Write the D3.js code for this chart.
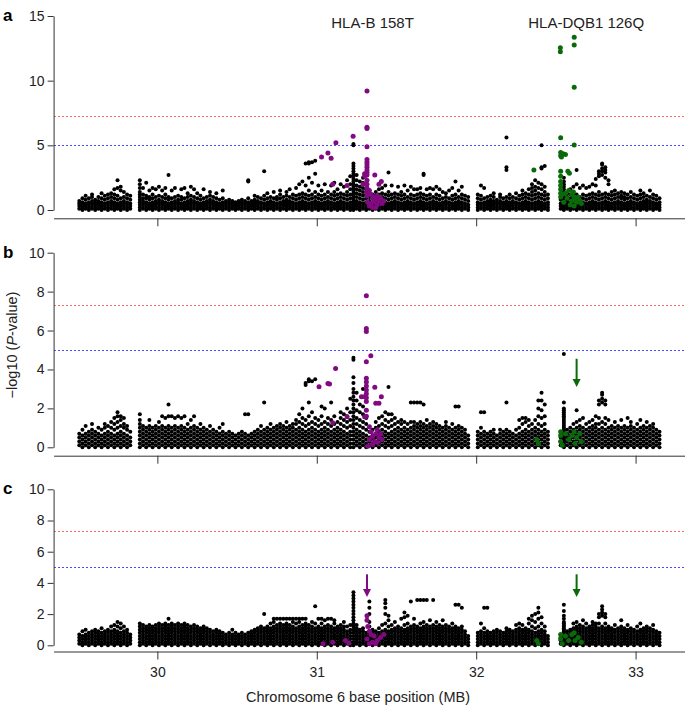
<!DOCTYPE html>
<html>
<head>
<meta charset="utf-8">
<script src="https://cdn.jsdelivr.net/npm/d3@7"></script>
<style>
  body { margin: 0; background: #fff; }
  text { font-family: "Liberation Sans", Arial, Helvetica, sans-serif; }
</style>
</head>
<body>
<svg id="chart" width="685" height="705"></svg>
<script>
// SNP bins: each bin is 0.02 MB wide starting at 29.50, values are -log10(P) in tenths
const binStart = 29.50
const binWidth = 0.02

const blackA = [
  [1,3,5,7],[0,2,4,6,9],[1,3,5,8,11],[0,2,4,6,9],[1,3,5,7,10,12],[0,2,4,6,8],[1,3,5,7,10],[0,2,4,6,9,13],[1,3,5,8,11],[0,2,4,6,9,12],
  [1,3,5,7,10,13],[0,2,4,6,9,12,16],[1,3,5,8,11,17,23],[0,2,4,6,9,15,18],[1,3,5,7,10,14],[0,2,4,6,9,12],[1,3,5,8,11],[],[],[0,2,4,6,8,10,12,14,17,20,23],
  [1,3,5,7,9,12,17],[0,2,4,6,9,11,21],[1,3,5,8,10,15],[0,2,4,6,9,12,17],[1,3,5,7,10,16],[0,2,4,6,8,11,18],[1,3,5,7,10,15],[0,2,4,6,9,12,17],[1,3,5,8,10,27],[0,2,4,6,9,15],
  [1,3,5,7,10,17],[0,2,4,6,8,11],[1,3,5,8,10,16],[0,2,4,6,9,17],[1,3,5,7,10,13],[0,2,4,6,8,11,18],[1,3,5,7,10,16],[0,2,4,6,9,13],[1,3,5,8,11],[0,2,4,6,9,16],
  [1,3,5,7,10],[0,2,4,6,8,11,14],[1,3,5,7,10],[0,2,4,6,9,13],[1,3,5,8],[0,2,4,6,9,15],[1,3,5,7],[0,2,4,6,8],[1,3,5,7],[0,2,4,6],
  [1,3,5,7],[0,2,4,6,8],[1,3,5,7],[0,2,4,6,9,22,23],[1,3,5,7],[0,2,4,6,8,11],[1,3,5,7,10],[0,2,4,6,9],[1,3,5,8,11,30],[0,2,4,6,9,13],
  [1,3,5,7,10],[0,2,4,6,9,14],[1,3,5,8,10],[0,2,4,6,9,12,15],[1,3,5,7,10],[0,2,4,6,8,11,14],[1,3,5,7,10,16],[0,2,4,6,9,12],[1,3,5,8,11,17],[0,2,4,6,9,12,20],
  [1,3,5,7,10,13,22],[0,2,4,6,9,12,19,36],[1,3,5,8,11,15,25,36,37],[0,2,4,6,9,12,21,37],[1,3,5,7,10,14,28,38],[0,2,4,6,9,12,19],[1,3,5,8,11,15],[0,2,4,6,9,12,20],[1,3,5,7,10,14],[0,2,4,6,9,12,19],
  [1,3,5,8,11,14,21],[0,2,4,6,9,12,16],[1,3,5,7,10,13,20],[0,2,4,6,9,12,18],[1,3,5,8,11,14,23],[0,2,4,6,9,12,16,20,26],[0,2,4,6,8,10,12,14,16,18,20,22,24,26,28,30,32,34,36,50,51],[1,3,5,7,10,13,16,19,23,27],[0,2,4,6,9,12,15,18,22],[1,3,5,8,11,14,17,21,25],
  [0,2,4,6,9,12,16,20],[1,3,5,7,10],[0,2,4,6,9,12],[1,3,5,8,11,14],[0,2,4,6,9,12,16],[1,3,5,7,10,13,17],[0,2,4,6,9,12,19],[1,3,5,8,11,14,29],[0,2,4,6,9,12,19],[1,3,5,7,10,13],
  [0,2,4,6,9,12,18],[1,3,5,8,11,14],[0,2,4,6,9,12,19],[1,3,5,7,10,15],[0,2,4,6,9,12,18],[1,3,5,8,11,16],[0,2,4,6,9,12,16],[1,3,5,7,10,13,17],[0,2,4,6,9,12,27,28],[1,3,5,8,11,16],
  [0,2,4,6,9,12,17],[1,3,5,7,10,16],[0,2,4,6,9,12,18],[1,3,5,8,11,16],[0,2,4,6,9,14],[1,3,5,7,10,13],[0,2,4,6,9,15],[1,3,5,8,11,17],[0,2,4,6,9,12,22],[1,3,5,7,10,15],
  [0,2,4,6,9,12,18],[1,3,5,8,11],[0,2,4,7,10],[],[],[0,2,4,6,9,12],[1,3,5,8,11,19],[0,2,4,6,9,17],[1,3,5,7,10],[0,2,4,6,8,11],
  [1,3,5,7,10,13],[0,2,4,6,8],[1,3,5,7,10,12],[0,2,4,6,9],[1,3,5,7,10,31,33,56],[0,2,4,6,9,12],[1,3,5,7,10],[0,2,4,6,9,13],[1,3,5,8,11],[0,2,4,6,9,12,15],
  [1,3,5,7,10,13],[0,2,4,6,9,12,16],[1,3,5,8,11,14,17,20],[0,2,4,6,9,12,15,18,23],[1,3,5,7,10,13,17,21],[0,2,4,6,9,12,16,20,32,33,50],[1,3,5,8,11,14,18,34],[0,2,4,6,9,12],[],[],
  [],[1,3,5,8],[0,1,2,3,4,5,6,7,8,9,10,12,14,16,18,20,22,25],[1,3,5,7,10,13],[0,2,4,6,9,12,16],[1,3,5,8,11,18],[0,2,4,6,9,12,20,31],[1,3,5,7,10,17],[0,2,4,6,9,12,19],[1,3,5,8,11,17],
  [0,2,4,6,9,12,18],[1,3,5,7,10,13,20],[0,2,4,6,9,12,19,24],[1,3,5,8,11,14,26,28,30],[0,2,4,6,9,12,27,30,32,35,36],[1,3,5,7,10,13,25,29,31,33],[0,2,4,6,9,12,20,23],[1,3,5,8,11,14],[0,2,4,6,9,12,15],[1,3,5,7,10,13],
  [0,2,4,6,9,11,14],[1,3,5,8,10,13],[0,2,4,6,9,12],[1,3,5,7,10,14],[0,2,4,6,9,12],[1,3,5,8,11],[0,2,4,6,9,12,15],[1,3,5,7,10,13],[0,2,4,6,8,11],[1,3,5,7,10,15],
  [0,2,4,6,9,12],[1,3,5,8,11],[0,2,4,6,9]
]

const blackB = [
  [1,3,5,7],[0,2,4,6,9],[1,3,5,7,11],[0,2,4,6,8],[1,3,5,7,9,12],[0,2,4,6,8],[1,3,5,7,10],[0,2,4,6,9],[1,3,5,7,10,12],[0,2,4,6,8,11],
  [1,3,5,7,10,13],[0,2,4,6,9,12,15],[1,3,5,7,10,13,16,18],[0,2,4,6,8,11,14,16],[1,3,5,7,10,12,15],[0,2,4,6,9,11],[1,3,5,8],[],[],[0,2,4,6,8,10,12,14,17],
  [1,3,5,7,9,11],[0,2,4,6,8,10],[1,3,5,7,9,11,14],[0,2,4,6,8,10],[1,3,5,7,9,11],[0,2,4,6,8,10,13],[1,3,5,7,9,11,16],[0,2,4,6,8,10,15],[1,3,5,7,9,11,16,22],[0,2,4,6,8,10,16],
  [1,3,5,7,9,11,15],[0,2,4,6,8,10,16],[1,3,5,7,9,11,15],[0,2,4,6,8,10,16],[1,3,5,7,9,12],[0,2,4,6,8,10,14],[1,3,5,7,9,11,16],[0,2,4,6,8,10],[1,3,5,7,9,12],[0,2,4,6,8,10],
  [1,3,5,7,9],[0,2,4,6,8,11],[1,3,5,7,9],[0,2,4,6,8],[1,3,5,7,10],[0,2,4,6,8,12],[1,3,5,7],[0,2,4,6,8],[1,3,5,7],[0,2,4,6],
  [1,3,5,7],[0,2,4,6,8],[1,3,5,7,17],[0,2,4,6,17],[1,3,5,7],[0,2,4,6,8],[1,3,5,7,9],[0,2,4,6,8,11],[1,3,5,7,9,23],[0,2,4,6,8,10],
  [1,3,5,7,9,12],[0,2,4,6,8,10],[1,3,5,7,9,11],[0,2,4,6,8,10,12],[1,3,5,7,9,11],[0,2,4,6,8,10,13],[1,3,5,7,9,11],[0,2,4,6,8,10,12],[1,3,5,7,9,12,14],[0,2,4,6,8,10,13,17],
  [1,3,5,7,9,12,15,20],[0,2,4,6,8,11,14,32,33],[1,3,5,7,9,12,16,23,34,35],[0,2,4,6,8,10,13,18,34],[1,3,5,7,9,12,15,35],[0,2,4,6,8,11,14],[1,3,5,7,9,12,16,21],[0,2,4,6,8,10,13,20],[1,3,5,7,9,12,15],[0,2,4,6,8,11,14,23],
  [1,3,5,7,9,12,16],[0,2,4,6,8,10,13],[1,3,5,7,9,12,15,18],[0,2,4,6,8,11,14,17],[1,3,5,7,10,13,16,20],[0,2,4,6,8,11,14,18,25],[0,2,4,6,8,10,12,14,16,18,20,22,24,26,28,30,33,36,45,46],[1,3,5,7,9,12,15,19,24,28],[0,2,4,6,8,11,14,18,22],[1,3,5,7,10,13,17,21,26,30],
  [0,2,4,6,9,12,15,19],[1,3,5,8],[0,2,4,6,9],[1,3,5,7,10,13],[0,2,4,6,8,11,15],[1,3,5,7,9,12,16],[0,2,4,6,8,11,14,18],[1,3,5,7,10,13,17,31],[0,2,4,6,8,11,14,17],[1,3,5,7,9,12,15],
  [0,2,4,6,8,10,13],[1,3,5,7,9,12,14],[0,2,4,6,8,10,13],[1,3,5,7,9,12],[0,2,4,6,8,10,13,23],[1,3,5,7,9,11,13,23],[0,2,4,6,8,10,12,23],[1,3,5,7,9,11,13,23],[0,2,4,6,8,10,12,22],[1,3,5,7,9,11,14],
  [0,2,4,6,8,10,12],[1,3,5,7,9,11,13],[0,2,4,6,8,10,12],[1,3,5,7,9,11],[0,2,4,6,8,10],[1,3,5,7,9,11,13],[0,2,4,6,8,10],[1,3,5,7,9,12],[0,2,4,6,8,10,21],[1,3,5,7,9,11,21],
  [0,2,4,6,8,10],[1,3,5,7,9],[0,2,4,6],[],[],[0,2,4,6,8],[1,3,5,7,10,18],[0,2,4,6,8,18],[1,3,5,7],[0,2,4,6,8],
  [1,3,5,7,9],[0,2,4,6],[1,3,5,7,9],[0,2,4,6,8],[1,3,5,7,9,23],[0,2,4,6,8],[1,3,5,7],[0,2,4,6,9],[1,3,5,7,10,14],[0,2,4,6,8,12,15],
  [1,3,5,7,9,13,15],[0,2,4,6,8,11,14],[1,3,5,7,9,12],[0,2,4,6,8,10,14],[1,3,5,7,9,12,16,20,24],[0,2,4,6,8,11,15,19,24,28],[1,3,5,7,9,12,16,22],[0,2,4,6,8],[],[],
  [],[1,3,5],[0,1,2,3,4,5,6,7,8,9,10,11,12,13,14,15,16,17,18,19,20,23,48],[1,3,5,7,9],[0,2,4,6,8,10],[1,3,5,7,9,12],[0,2,4,6,8,10,13,19],[1,3,5,7,9,11,14],[0,2,4,6,8,10,15],[1,3,5,7,9,12],
  [0,2,4,6,8,10,13],[1,3,5,7,9,11,14],[0,2,4,6,8,10,12,16],[1,3,5,7,9,12,15,22,24],[0,2,4,6,8,10,13,23,25,27,28],[1,3,5,7,9,12,15,22,24],[0,2,4,6,8,10,14],[1,3,5,7,9,11],[0,2,4,6,8,10,13],[1,3,5,7,9,11],
  [0,2,4,6,8,10,14],[1,3,5,7,9,11],[0,2,4,6,8,10,15],[1,3,5,7,9,11,13],[0,2,4,6,8,10],[1,3,5,7,9,12],[0,2,4,6,8,10,14],[1,3,5,7,9,11],[0,2,4,6,8,10,13],[1,3,5,7,9,11],
  [0,2,4,6,8,10,12],[1,3,5,7,9],[0,2,4,6,8]
]

const blackC = [
  [1,3,5,7],[0,2,4,6,9],[1,3,5,7,10],[0,2,4,6,8],[1,3,5,7,9],[0,2,4,6,8,10],[1,3,5,7,9],[0,2,4,6,8,11],[1,3,5,7,9],[0,2,4,6,8,10],
  [1,3,5,7,9,12],[0,2,4,6,8,10,13],[1,3,5,7,9,12,15],[0,2,4,6,8,11,14],[1,3,5,7,9,12],[0,2,4,6,8,10],[1,3,5,7],[],[],[0,2,4,6,8,10,12,14],
  [1,3,5,7,9,11,13],[0,2,4,6,8,10,12],[1,3,5,7,9,11,13],[0,2,4,6,8,10,12],[1,3,5,7,9,11,13],[0,2,4,6,8,10,12,14],[1,3,5,7,9,11,13],[0,2,4,6,8,10,12,14],[1,3,5,7,9,11,13,17],[0,2,4,6,8,10,12,14],
  [1,3,5,7,9,11,13],[0,2,4,6,8,10,12,14],[1,3,5,7,9,11,13],[0,2,4,6,8,10,12,14],[1,3,5,7,9,11,13],[0,2,4,6,8,10,12],[1,3,5,7,9,11,13],[0,2,4,6,8,10,12],[1,3,5,7,9,11],[0,2,4,6,8,10,12],
  [1,3,5,7,9,11],[0,2,4,6,8,10],[1,3,5,7,9],[0,2,4,6,8,10],[1,3,5,7,9],[0,2,4,6,8],[1,3,5,7],[0,2,4,6,8],[1,3,5,7,10],[0,2,4,6,8],
  [1,3,5,7],[0,2,4,6,8],[1,3,5,7],[0,2,4,6,8],[1,3,5,7,9],[0,2,4,6,8,10],[1,3,5,7,9,11],[0,2,4,6,8,10,12],[1,3,5,7,9,11,20],[0,2,4,6,8,10,12],
  [1,3,5,7,9,11,14],[0,2,4,6,8,10,12,15,17],[1,3,5,7,9,11,13,17],[0,2,4,6,8,10,12,14,17],[1,3,5,7,9,11,13,17],[0,2,4,6,8,10,12,14,17],[1,3,5,7,9,11,13,17],[0,2,4,6,8,10,12,15,17],[1,3,5,7,9,11,14,17],[0,2,4,6,8,10,12,15,17],
  [1,3,5,7,9,11,13,17],[0,2,4,6,8,10,12,14,17],[1,3,5,7,9,11,13],[0,2,4,6,8,10,12,15],[1,3,5,7,9,11,14,25],[0,2,4,6,8,10,12,17],[1,3,5,7,9,11,14,17],[0,2,4,6,8,10,12,16],[1,3,5,7,9,11,13,17],[0,2,4,6,8,10,12,17],
  [1,3,5,7,9,11,14,16],[0,2,4,6,8,10,12],[1,3,5,7,9,11,13],[0,2,4,6,8,10,12,15],[1,3,5,7,9,12],[0,2,4,6,8,10,13],[0,2,4,6,8,10,12,14,16,18,20,22,24,26,28,30,32,34],[1,3,5,7,9,11,13],[0,2,4,6,8,10],[1,3,5,7,9,11],
  [0,2,4,6,8],[1,3,5,7,9,12,15,20,24,28],[0,2,4,6,8,10],[1,3,5,7,9],[0,2,4,6,8,11],[1,3,5,7,9,13],[0,2,4,6,8,10,14,20,24,27,29],[1,3,5,7,9,12,16,19],[0,2,4,6,8,10,13],[1,3,5,7,9,11,15],
  [0,2,4,6,8,10,12],[1,3,5,7,9,11,17],[0,2,4,6,8,10,13,18,21],[1,3,5,7,9,11,14,19],[0,2,4,6,8,10,12,28],[1,3,5,7,9,11,13,17],[0,2,4,6,8,10,12,29],[1,3,5,7,9,11,14,29],[0,2,4,6,8,10,12,15,29],[1,3,5,7,9,11,13,29],
  [0,2,4,6,8,10,12,16],[1,3,5,7,9,11,13,29],[0,2,4,6,8,10,12,15],[1,3,5,7,9,11,13],[0,2,4,6,8,10,12,16],[1,3,5,7,9,11,13],[0,2,4,6,8,10,12],[1,3,5,7,9,11,14],[0,2,4,6,8,10,12,26],[1,3,5,7,9,11,26],
  [0,2,4,6,8,10,12,24],[1,3,5,7,9],[0,2,4,6],[],[],[0,2,4,6,8],[1,3,5,7,9,14],[0,2,4,6,8,11,24],[1,3,5,7,9,24],[0,2,4,6,8],
  [1,3,5,7,9],[0,2,4,6,8,10],[1,3,5,7,9],[0,2,4,6,8],[1,3,5,7,9,11],[0,2,4,6,8,10],[1,3,5,7,9],[0,2,4,6,8,10,13],[1,3,5,7,9,11,14],[0,2,4,6,8,10,13],
  [1,3,5,7,9,11],[0,2,4,6,8,10,14,17],[1,3,5,7,9,12,16,19],[0,2,4,6,8,11,15,20],[1,3,5,7,9,12,17,21,24],[0,2,4,6,8,10,14,18],[1,3,5,7,9,12],[0,2,4,6],[],[],
  [],[1,3,5],[0,1,2,3,4,5,6,7,8,9,10,11,12,13,14,15,17,19,22,26],[1,3,5,7,9],[0,2,4,6,8,10],[1,3,5,7,9,11,14],[0,2,4,6,8,10,12,15],[1,3,5,7,9,11,13],[0,2,4,6,8,10,12,16],[1,3,5,7,9,11,14],
  [0,2,4,6,8,10,12],[1,3,5,7,9,11,13,15],[0,2,4,6,8,10,12,14],[1,3,5,7,9,11,14,18,20],[0,2,4,6,8,10,12,19,21,23,25],[1,3,5,7,9,11,14,18,20],[0,2,4,6,8,10,12],[1,3,5,7,9,11],[0,2,4,6,8,10,13],[1,3,5,7,9,11],
  [0,2,4,6,8,10,12,16],[1,3,5,7,9,11],[0,2,4,6,8,10,13],[1,3,5,7,9,11],[0,2,4,6,8,10],[1,3,5,7,9,12],[0,2,4,6,8,10,14],[1,3,5,7,9,11],[0,2,4,6,8,10,12],[1,3,5,7,9,11],
  [0,2,4,6,8,10,13],[1,3,5,7,9],[0,2,4,6,8]
]

// HLA-B 158T tagged variants (purple) and HLA-DQB1 126Q tagged variants (green): [MB, -log10 P]
const purpleA = [[31.315,9.2],[31.315,6.4],[31.315,6.3],[31.228,5.7],[31.12,5.2],[31.07,4.4],[31.09,4.0],[31.03,4.1],[31.315,4.9],
  [31.315,3.9],[31.315,3.7],[31.315,3.5],[31.315,3.3],[31.315,3.1],[31.315,2.9],[31.315,2.7],[31.30,2.8],[31.30,2.6],[31.364,2.7],
  [31.405,2.2],[31.39,2.0],[31.10,2.0],[31.19,1.9],[31.29,2.0],[31.315,2.3],[31.315,2.0],[31.315,1.7],[31.315,1.4],[31.315,1.1],
  [31.33,1.5],[31.34,1.2],[31.35,0.9],[31.36,0.6],[31.37,0.8],[31.38,0.4],[31.39,0.7],[31.40,0.9],[31.41,0.5],[31.42,0.7],
  [31.33,0.3],[31.35,0.2],[31.34,0.5],[31.36,1.0],[31.38,1.1],[31.32,0.6],[31.37,0.2]]
const greenA = [[32.528,12.55],[32.528,12.24],[32.615,13.35],[32.615,12.76],[32.615,9.49],[32.53,5.59],[32.615,5.03],[32.53,4.45],
  [32.53,4.2],[32.545,4.35],[32.56,4.3],[32.535,4.1],[32.362,3.1],[32.53,3.0],[32.575,3.0],[32.585,2.85],[32.53,2.6],[32.53,2.2],
  [32.53,1.9],[32.53,1.6],[32.53,1.3],[32.53,1.0],[32.54,1.2],[32.56,1.3],[32.58,1.5],[32.6,1.2],[32.61,1.4],[32.615,1.0],
  [32.62,0.8],[32.63,0.6],[32.64,1.0],[32.65,0.7],[32.66,0.5],[32.6,0.7],[32.59,0.4],[32.55,0.6],[32.57,0.9],[32.615,0.3]]

const purpleB = [[31.311,7.79],[31.311,6.1],[31.311,5.95],[31.339,4.7],[31.311,4.4],[31.118,4.05],[31.07,3.28],[31.08,3.25],
  [31.014,3.11],[31.311,3.55],[31.311,3.35],[31.311,3.15],[31.311,2.95],[31.311,2.75],[31.311,2.55],[31.311,2.35],[31.364,3.08],
  [31.405,2.6],[31.37,2.26],[31.39,2.26],[31.28,2.6],[31.30,2.6],[31.19,1.57],[31.10,1.26],[31.30,1.57],[31.311,1.9],[31.311,1.6],
  [31.33,1.05],[31.34,0.8],[31.35,0.55],[31.36,0.3],[31.37,0.7],[31.38,0.9],[31.39,0.5],[31.40,0.7],[31.32,0.05],[31.33,0.4],
  [31.35,0.15],[31.38,0.25],[31.41,0.4]]
const greenB = [[32.38,0.4],[32.39,0.2],[32.53,0.8],[32.53,0.6],[32.53,0.3],[32.54,0.1],[32.56,0.7],[32.58,0.4],[32.6,0.6],
  [32.615,0.8],[32.62,0.2],[32.63,0.5],[32.65,0.7],[32.66,0.3]]

const purpleC = [[31.315,1.9],[31.315,1.6],[31.32,1.2],[31.33,0.9],[31.34,0.7],[31.36,0.6],[31.38,0.3],[31.40,0.5],[31.42,0.7],
  [31.35,0.2],[31.33,0.1],[31.04,0.1],[31.1,0.2],[31.18,0.3],[31.2,0.15],[31.37,0.1],[31.315,0.4]]
const greenC = [[32.38,0.3],[32.39,0.1],[32.53,0.7],[32.53,0.4],[32.54,0.1],[32.56,0.6],[32.58,0.3],[32.6,0.7],[32.615,0.8],
  [32.62,0.3],[32.64,0.5],[32.66,0.2]]

// arrows mark the conditioned-on variant: [MB, colour group]
const arrowsB = [[32.63, 'green']]
const arrowsC = [[31.315, 'purple'], [32.63, 'green']]
const arrowSpan = [4.55, 3.1]

const xTickValues = [30, 31, 32, 33]
const yTicksA = [0, 5, 10, 15]
const yTicksBC = [0, 2, 4, 6, 8, 10]
const thresholdValues = [7.3, 5]
const geneLabels = [['HLA-B 158T', 31.35], ['HLA-DQB1 126Q', 32.69]]

// styles and layout
const colors = {black: '#000', purple: '#800a80', green: '#0a6a0a'}
const thresholdColors = ['#ff6a6a', '#4a4aff']
const axisLeftX = 53.6

const panels = [
  {letter: 'a', y0: 210, y1: 16, axisY: 218.3, yMax: 15, ticks: yTicksA, bins: blackA, purple: purpleA, green: greenA, arrows: []},
  {letter: 'b', y0: 447.3, y1: 252.7, axisY: 455.7, yMax: 10, ticks: yTicksBC, bins: blackB, purple: purpleB, green: greenB, arrows: arrowsB},
  {letter: 'c', y0: 645.3, y1: 489.3, axisY: 651.5, yMax: 10, ticks: yTicksBC, bins: blackC, purple: purpleC, green: greenC, arrows: arrowsC, labels: true}
]

const svg = d3.select('#chart')
const x = d3.scaleLinear().domain([29.349, 33.31]).range([axisLeftX, 685])

panels.forEach(p => {
  const y = d3.scaleLinear().domain([0, p.yMax]).range([p.y0, p.y1])
  const g = svg.append('g')

  // threshold lines (dotted)
  thresholdValues.forEach((t, i) => {
    const ly = Math.round(y(t)) + 0.5
    g.append('line')
      .attr('x1', 54).attr('x2', 685)
      .attr('y1', ly).attr('y2', ly)
      .attr('stroke', thresholdColors[i]).attr('stroke-width', 1.2)
      .attr('stroke-dasharray', '2,2')
  })

  // flatten bins into points
  let pts = []
  p.bins.forEach((vals, i) => {
    vals.forEach(v => pts.push([binStart + binWidth * (i + 0.5), v / 10]))
  })

  g.append('g').selectAll('circle').data(pts).join('circle')
    .attr('cx', d => x(d[0])).attr('cy', d => y(d[1]))
    .attr('r', 2.0).attr('fill', colors.black)

  g.append('g').selectAll('circle').data(p.purple).join('circle')
    .attr('cx', d => x(d[0])).attr('cy', d => y(d[1]))
    .attr('r', 2.5).attr('fill', colors.purple)

  g.append('g').selectAll('circle').data(p.green).join('circle')
    .attr('cx', d => x(d[0])).attr('cy', d => y(d[1]))
    .attr('r', 2.5).attr('fill', colors.green)

  // arrows
  p.arrows.forEach(a => {
    const ax = x(a[0]), top = y(arrowSpan[0]), tip = y(arrowSpan[1])
    g.append('line').attr('x1', ax).attr('x2', ax).attr('y1', top).attr('y2', tip - 4)
      .attr('stroke', colors[a[1]]).attr('stroke-width', 2)
    g.append('path').attr('d', `M${ax - 4},${tip - 8} L${ax + 4},${tip - 8} L${ax},${tip} Z`)
      .attr('fill', colors[a[1]])
  })

  // y axis
  const yAxis = g.append('g').attr('transform', `translate(${axisLeftX},0)`)
    .call(d3.axisLeft(y).tickValues(p.ticks).tickSize(6).tickSizeOuter(0).tickPadding(3))
  yAxis.selectAll('path, line').attr('stroke', '#333')
  yAxis.selectAll('text').attr('font-size', 14).attr('fill', '#222')
    .style('font-family', '"Liberation Sans", Arial, sans-serif')

  // x axis
  const xAxis = g.append('g').attr('transform', `translate(0,${p.axisY})`)
    .call(d3.axisBottom(x).tickValues(xTickValues).tickSize(8).tickSizeOuter(0).tickPadding(8)
      .tickFormat(p.labels ? d3.format('d') : ''))
  xAxis.selectAll('path, line').attr('stroke', '#333')
  xAxis.selectAll('text').attr('font-size', 14).attr('fill', '#222')
    .style('font-family', '"Liberation Sans", Arial, sans-serif')

  // panel letter
  svg.append('text').attr('x', 3).attr('y', p.y1 + 5)
    .attr('font-size', 17).attr('font-weight', 'bold').text(p.letter)
})

// gene labels over panel a
geneLabels.forEach(l => {
  svg.append('text').attr('x', x(l[1])).attr('y', 28)
    .attr('text-anchor', 'middle').attr('font-size', 15).attr('fill', '#222').text(l[0])
})

// axis titles
svg.append('text').attr('x', 358).attr('y', 702).attr('text-anchor', 'middle')
  .attr('font-size', 14.5).attr('fill', '#222').text('Chromosome 6 base position (MB)')

const yt = svg.append('text').attr('transform', 'translate(17,345) rotate(-90)')
  .attr('text-anchor', 'middle').attr('font-size', 14.5).attr('fill', '#222')
yt.append('tspan').text('\u2212log10 (')
yt.append('tspan').attr('font-style', 'italic').text('P')
yt.append('tspan').text('-value)')
</script>
</body>
</html>
